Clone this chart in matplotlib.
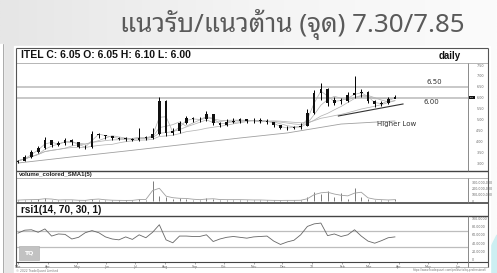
import numpy as np
import pandas as pd
import matplotlib
matplotlib.use("Agg")
import matplotlib.pyplot as plt
import matplotlib.dates as mdates
from matplotlib.patches import Rectangle, Polygon
from matplotlib.colors import LinearSegmentedColormap
from matplotlib import font_manager as fm
from matplotlib.ft2font import FT2Font

# ---------------- data ----------------
title_text = "แนวรับ/แนวต้าน (จุด) 7.30/7.85"
header_text = "ITEL C: 6.05 O: 6.05 H: 6.10 L: 6.00"
period_text = "daily"
volume_label = "volume_colored_SMA1(5)"
rsi_label = "rsi1(14, 70, 30, 1)"

start_date = "2021-03-01"
n_weeks = 57
close = [3.10, 3.28, 3.50, 3.70, 4.05, 3.85, 3.90, 4.05, 3.95, 3.75, 3.72, 4.35, 4.30, 4.22, 4.15,
         4.12, 4.10, 4.08, 4.15, 4.15, 4.35, 5.85, 4.40, 4.45, 4.85, 5.05, 5.00, 5.00, 5.25, 4.85,
         4.75, 4.90, 4.95, 5.00, 4.92, 4.95, 4.95, 4.90, 4.75, 4.60, 4.62, 4.65, 4.72, 5.30, 6.20,
         6.40, 5.75, 5.90, 5.85, 6.10, 6.20, 6.25, 5.85, 5.70, 5.75, 5.95, 6.05]
high = [3.15, 3.35, 3.60, 3.80, 4.20, 4.05, 4.00, 4.15, 4.10, 3.90, 3.85, 4.45, 4.40, 4.30, 4.25,
        4.20, 4.18, 4.15, 4.60, 4.25, 4.60, 6.02, 5.90, 4.60, 4.95, 5.15, 5.10, 5.10, 5.40, 5.25,
        4.90, 5.00, 5.05, 5.08, 5.02, 5.05, 5.05, 5.00, 4.90, 4.75, 4.70, 4.72, 4.85, 5.50, 6.35,
        6.67, 6.45, 6.05, 6.00, 6.25, 6.98, 6.40, 6.30, 5.90, 5.85, 6.05, 6.10]
low = [3.00, 3.10, 3.25, 3.45, 3.65, 3.75, 3.80, 3.85, 3.85, 3.70, 3.65, 3.70, 4.15, 4.12, 4.05,
       4.05, 4.00, 4.00, 4.02, 4.05, 4.10, 4.30, 4.25, 4.30, 4.40, 4.80, 4.90, 4.90, 4.95, 4.75,
       4.65, 4.70, 4.85, 4.85, 4.82, 4.85, 4.85, 4.80, 4.65, 4.55, 4.52, 4.55, 4.58, 4.70, 5.25,
       5.90, 5.60, 5.65, 5.70, 5.80, 6.00, 6.05, 5.75, 5.55, 5.60, 5.70, 6.00]
first_open = 3.05

volume_m = [15, 25, 20, 30, 45, 20, 15, 25, 15, 10, 12, 40, 25, 15, 12, 10, 10, 12, 35, 15,
            330, 90, 70, 40, 50, 35, 25, 20, 45, 30, 20, 25, 20, 25, 15, 20, 15, 12, 10, 10,
            12, 10, 15, 60, 150, 120, 170, 60, 130, 40, 220, 70, 35, 25, 20, 15, 30]

rsi = [64, 71, 72, 66, 74, 57, 62, 61, 50, 54, 65, 70, 65, 55, 50, 48, 55, 49, 60, 53,
       66, 84, 48, 41, 57, 57, 56, 56, 60, 44, 50, 54, 56, 54, 52, 55, 56, 57, 45, 37,
       43, 47, 60, 80, 86, 88, 58, 62, 56, 60, 72, 57, 45, 40, 46, 53, 55]

long_ma_week = [0, 8, 16, 24, 33, 40, 48, 56]
long_ma_val = [3.00, 3.28, 3.55, 3.83, 4.15, 4.38, 4.79, 4.93]
ma_windows = [2, 4, 8, 15]

level_values = [6.50, 6.00]
level_labels = ["6.50", "6.00"]
trend_week = [47.6, 57.2]
trend_val = [5.16, 5.71]
trend_label = "Higher Low"

price_ticks = [3.0, 3.5, 4.0, 4.5, 5.0, 5.5, 6.0, 6.5, 7.0, 7.5]
vol_ticks = [0, 100, 200, 300]
rsi_ticks = [0, 20, 40, 60, 80, 100]
rsi_levels = [70, 30]
month_labels = ["Mar", "Apr", "May", "Jun", "Jul", "Aug", "Sep", "Oct", "Nov", "Dec",
                "22", "Feb", "Mar", "Apr", "May", "Jun"]
last_price_tag = "6.05"

# ---------------- fonts ----------------
thai_fams = []
for f in fm.fontManager.ttflist:
    try:
        if 0x0E41 in FT2Font(f.fname).get_charmap():
            if f.name not in thai_fams:
                thai_fams.append(f.name)
    except Exception:
        pass
pref = ["Noto Sans Thai Looped", "Sarabun", "Noto Sans Thai", "Loma", "Garuda"]
chosen = [p for p in pref if p in thai_fams][:1]
title_family = chosen + ["DejaVu Sans"]

W, H = 497, 273
fig = plt.figure(figsize=(W / 100, H / 100), dpi=100)


def box(x0, y0, x1, y1):
    return [x0 / W, 1 - y1 / H, (x1 - x0) / W, (y1 - y0) / H]


def fx(px):
    return px / W


def fy(py):
    return 1 - py / H


# background gradient
bg = fig.add_axes([0, 0, 1, 1], zorder=-10)
grad = np.linspace(0, 1, 256)[None, :]
cmap_bg = LinearSegmentedColormap.from_list("bg", ["#e6e6e6", "#f4f4f4", "#fbfbfb"])
bg.imshow(grad, aspect="auto", cmap=cmap_bg, extent=[0, 1, 0, 1])
bg.set_xlim(0, 1)
bg.set_ylim(0, 1)
bg.axis("off")
bg.add_patch(Polygon([[fx(478), fy(273)], [fx(497), fy(235)], [fx(497), fy(273)]],
                     closed=True, color="#cdeff2", transform=bg.transAxes))
bg.add_patch(Rectangle((0, fy(273)), fx(3), fy(44) - fy(273), color="white", transform=bg.transAxes))
bg.plot([fx(3), fx(3)], [fy(44), fy(273)], color="#888888", lw=0.5, transform=bg.transAxes)
# white chart panel
bg.add_patch(Rectangle((fx(14), fy(273)), fx(490) - fx(14), fy(46) - fy(273), color="white",
                       transform=bg.transAxes))

fig.text(fx(465), fy(25), title_text, ha="right", va="center", fontsize=18.7, color="#5a5a5a",
         family=title_family)

# dates
dates = pd.date_range(start_date, periods=n_weeks, freq="7D")
xl = (mdates.date2num(pd.Timestamp("2021-02-28")), mdates.date2num(pd.Timestamp("2022-06-12")))
xnum = mdates.date2num(dates)
opens = [first_open] + close[:-1]
cs = pd.Series(close)

# ---------------- price panel ----------------
axp = fig.add_axes(box(17, 64, 468, 170))
axp.set_xlim(*xl)
axp.set_ylim(2.68, 7.546)
for lv in level_values:
    axp.axhline(lv, color="#c4c4c4", lw=1.3, zorder=1)
for w in ma_windows:
    axp.plot(xnum, cs.rolling(w, min_periods=1).mean(), color="#b5b5b5", lw=0.55, zorder=2)
lm_x = mdates.date2num(pd.Timestamp(start_date)) + np.array(long_ma_week) * 7
axp.plot(lm_x, long_ma_val, color="#a0a0a0", lw=0.6, zorder=2)
axp.vlines(xnum, low, high, color="black", lw=0.7, zorder=3)
body_b = np.minimum(opens, close)
body_h = np.maximum(np.abs(np.array(close) - np.array(opens)), 0.03)
axp.bar(xnum, body_h, bottom=body_b, width=2.8, color="#111111", zorder=4)
tr_x = mdates.date2num(pd.Timestamp(start_date)) + np.array(trend_week) * 7
axp.plot(tr_x, trend_val, color="#333333", lw=0.8, zorder=5)
axp.text(tr_x[0] + 7 * 5.8, trend_val[0] - 0.35, trend_label, fontsize=5, color="#333333",
         ha="left", va="center")
lab_x = mdates.date2num(pd.Timestamp("2022-04-30"))
axp.text(lab_x, level_values[0] + 0.2, level_labels[0], fontsize=5, color="#333333", ha="left", va="center")
axp.text(lab_x - 3, level_values[1] - 0.22, level_labels[1], fontsize=5, color="#333333", ha="left", va="center")
axp.yaxis.tick_right()
axp.set_yticks(price_ticks)
axp.set_yticklabels([f"{v:.2f}" for v in price_ticks])
axp.tick_params(axis="y", labelsize=2.4, colors="#666666", length=0, pad=6)
axp.set_xticks([])
for s in axp.spines.values():
    s.set_visible(False)

# ---------------- volume panel ----------------
axv = fig.add_axes(box(17, 178, 468, 202))
axv.set_xlim(*xl)
axv.set_ylim(-16, 379)
axv.vlines(xnum, 0, volume_m, color="#666666", lw=0.6)
axv.plot(xnum, pd.Series(volume_m).rolling(2, min_periods=1).mean(), color="#a0a0a0", lw=0.6)
axv.yaxis.tick_right()
axv.set_yticks(vol_ticks)
axv.set_yticklabels(["0" if v == 0 else f"{v * 1000000:,}" for v in vol_ticks])
axv.tick_params(axis="y", labelsize=2.3, colors="#666666", length=0, pad=3)
axv.set_xticks([])
for s in axv.spines.values():
    s.set_visible(False)

# ---------------- RSI panel ----------------
axr = fig.add_axes(box(17, 216, 468, 262))
axr.set_xlim(*xl)
axr.set_ylim(-4.8, 104.8)
for lv in rsi_levels:
    axr.axhline(lv, color="#bdbdbd", lw=0.9)
axr.plot(xnum, rsi, color="#666666", lw=0.6)
axr.yaxis.tick_right()
axr.set_yticks(rsi_ticks)
axr.set_yticklabels(["0" if v == 0 else f"{v:.4f}" for v in rsi_ticks])
axr.tick_params(axis="y", labelsize=2.3, colors="#666666", length=0, pad=3)
mt = pd.date_range("2021-03-01", "2022-06-01", freq="MS")
axr.set_xticks(mdates.date2num(mt))
axr.set_xticklabels(month_labels)
axr.tick_params(axis="x", labelsize=2.3, colors="#666666", length=1.5, width=0.4, pad=0.6)
for s in axr.spines.values():
    s.set_visible(False)
axr.add_patch(Rectangle((fx(19), fy(260)), fx(39) - fx(19), fy(246) - fy(260), transform=fig.transFigure,
                        facecolor="#c2c2c2", edgecolor="#aaaaaa", lw=0.4, zorder=5))
fig.text(fx(29), fy(253), "TQ", fontsize=4.5, color="white", ha="center", va="center", weight="bold", zorder=6)

# ---------------- frame lines ----------------
fr = fig.add_axes([0, 0, 1, 1], zorder=20)
fr.set_xlim(0, W)
fr.set_ylim(H, 0)
fr.axis("off")
fr.patch.set_alpha(0)


def hline(py, x0=16, x1=488, lw=0.8, c="#444444"):
    fr.plot([x0, x1], [py, py], color=c, lw=lw, solid_capstyle="butt")


def vline(px, y0, y1, lw=0.8, c="#444444"):
    fr.plot([px, px], [y0, y1], color=c, lw=lw, solid_capstyle="butt")


hline(48, lw=0.8, c="#555555")
hline(63, lw=0.5, c="#999999")
hline(171, lw=1.0)
hline(178, lw=0.5, c="#999999")
hline(203, lw=1.2)
hline(216, lw=1.0)
hline(262, lw=0.8)
hline(266.5, lw=0.5, c="#999999")
vline(16, 48, 266.5, lw=0.8, c="#555555")
vline(488, 48, 266.5, lw=0.8, c="#555555")
vline(468, 63, 171, lw=0.6, c="#777777")
vline(468, 178, 203, lw=0.6, c="#777777")
vline(468, 216, 266.5, lw=0.6, c="#777777")
# current price marker on the price axis
fr.add_patch(Rectangle((469, 95.5), 6, 3, facecolor="#111111", edgecolor="none", zorder=25))
fr.text(472, 97, last_price_tag, fontsize=1.3, color="white", ha="center", va="center", zorder=26)

fig.text(fx(21), fy(55.5), header_text, fontsize=7.5, weight="bold", color="#111111",
         family="Liberation Sans", va="center", ha="left", zorder=30)
fig.text(fx(461), fy(56), period_text, fontsize=7.0, weight="bold", color="#111111",
         family="Liberation Sans", va="center", ha="right", zorder=30)
fig.text(fx(19), fy(174.5), volume_label, fontsize=4.3, weight="bold", color="#222222",
         family="Liberation Sans", va="center", ha="left", zorder=30)
fig.text(fx(21), fy(210), rsi_label, fontsize=7.2, weight="bold", color="#111111",
         family="Liberation Sans", va="center", ha="left", zorder=30)
fig.text(fx(16), fy(270), "© 2022 TradeQuant Limited", fontsize=2.2, color="#777777", va="center", ha="left")
fig.text(fx(487), fy(270), "https://www.tradequant.com/products/tq-professional/", fontsize=2.0,
         color="#777777", va="center", ha="right")

fig.savefig("out.png", dpi=100)
